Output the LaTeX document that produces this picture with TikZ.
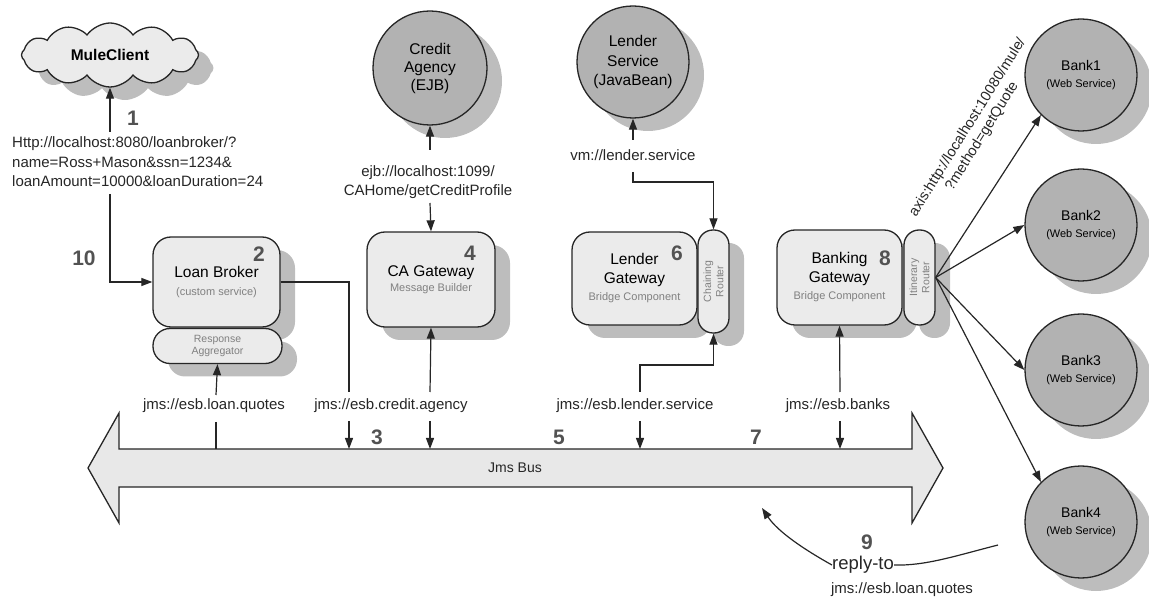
\documentclass[tikz,border=0pt]{standalone}
\usepackage{fontspec}
\setmainfont{Liberation Sans}
\usetikzlibrary{shapes.symbols,shadows,arrows.meta}
\tikzset{
  lbl/.style={font=\fontsize{15}{19.5}\selectfont, text=black!85, inner sep=0pt, align=center},
  num/.style={font=\fontsize{21}{21}\selectfont\bfseries, text=black!68, inner sep=0pt},
  shad/.style={drop shadow={opacity=1, fill=black!26, shadow xshift=15pt, shadow yshift=-13pt}},
  gbox/.style={draw=black!85, line width=1.3pt, fill=black!8, rounded corners=18pt, shad, inner sep=0pt, align=center,
    font=\fontsize{15.5}{18.5}\selectfont},
  pill/.style={draw=black!85, line width=1.3pt, fill=black!8, shad, inner sep=0pt, align=center,
    font=\fontsize{10.5}{12.5}\selectfont, text=black!50},
  circ/.style={circle, draw=black!85, line width=1.3pt, fill=black!30, minimum size=112pt, shad, inner sep=0pt, align=center},
  arr/.style={draw=black!85, line width=1.2pt, -{Triangle[length=11pt,width=8pt]}},
  ln/.style={draw=black!85, line width=1.2pt},
}
\newcommand{\subtxt}[1]{{\fontsize{11}{13}\selectfont\color{black!50}#1}}
\begin{document}
\begin{tikzpicture}[x=1pt,y=-1pt]
\useasboundingbox (0,0) rectangle (1149,609);

% ---------- MuleClient ----------
\node[cloud, cloud puffs=12, cloud puff arc=110, aspect=2.8, draw=black!85, line width=1.3pt, fill=black!8,
      minimum width=177pt, minimum height=64pt, shad, inner sep=0pt,
      font=\fontsize{15.5}{18}\selectfont\bfseries] (cloud) at (110,55) {MuleClient};
\node[lbl, anchor=west, align=left] (http) at (12,162)
  {Http://localhost:8080/loanbroker/?\\name=Ross+Mason\&ssn=1234\&\\loanAmount=10000\&loanDuration=24};
\node[num] (n1) at (133,118) {1};
\node[num] (n10) at (84,258) {10};

% ---------- Loan Broker ----------
\node[gbox, minimum width=127pt, minimum height=90pt] (lb) at (216.5,282)
  {Loan Broker\\[-1pt]\subtxt{(custom service)}};
\node[num] (n2) at (259,254) {2};
\node[pill, rounded corners=17pt, minimum width=129pt, minimum height=35pt] (agg) at (217.5,346)
  {Response\\Aggregator};
\node[lbl] (jlq) at (214,406) {jms://esb.loan.quotes};

% ---------- Credit Agency ----------
\node[circ, font=\fontsize{15.5}{18}\selectfont, minimum size=114pt] (credit) at (430,68) {Credit\\Agency\\(EJB)};
\node[lbl] (ejb) at (428,182) {ejb://localhost:1099/\\CAHome/getCreditProfile};
\node[gbox, minimum width=128pt, minimum height=95pt] (cag) at (431,279.5)
  {CA Gateway\\[-3pt]\subtxt{Message Builder}};
\node[num] (n4) at (470,253) {4};
\node[lbl] (jca) at (391,406) {jms://esb.credit.agency};
\node[num] (n3) at (377,437) {3};

% ---------- Lender ----------
\node[circ, font=\fontsize{15.5}{19.5}\selectfont] (lender) at (633,62) {Lender\\Service\\(JavaBean)};
\node[lbl] (vm) at (633,155) {vm://lender.service};
\node[gbox, minimum width=125pt, minimum height=93pt] (lg) at (634.5,278.5)
  {Lender\\Gateway\\[-1pt]\subtxt{Bridge Component}};
\node[num] (n6) at (677,253) {6};
\node[pill, rounded corners=15pt, minimum width=31pt, minimum height=103pt] (cr) at (713.5,281.5)
  {\rotatebox{90}{\shortstack{Chaining\\Router}}};
\node[lbl] (jls) at (635,406) {jms://esb.lender.service};
\node[num] (n5) at (559,437) {5};

% ---------- Banking ----------
\node[gbox, minimum width=125pt, minimum height=95pt] (bg) at (839.5,277.5)
  {Banking\\Gateway\\[-1pt]\subtxt{Bridge Component}};
\node[num] (n8) at (885,258) {8};
\node[pill, rounded corners=15pt, minimum width=31pt, minimum height=95pt] (ir) at (919.5,277.5)
  {\rotatebox{90}{\shortstack{Itinerary\\Router}}};
\node[lbl] (jb) at (838,406) {jms://esb.banks};
\node[num] (n7) at (756,437) {7};

% ---------- Banks ----------
\foreach \i/\y in {1/75,2/225,3/370,4/522}{
  \node[circ, font=\fontsize{14}{17}\selectfont] (bank\i) at (1081,\y) {Bank\i\\\fontsize{11}{13}\selectfont(Web Service)};
}
\node[lbl, rotate=58, font=\fontsize{14.5}{17}\selectfont] (axis) at (975,132)
  {axis:http://localhost:10080/mule/\\?method=getQuote};

% ---------- Jms Bus ----------
\path[draw=black!85, line width=1.3pt, fill=black!9]
  (88,468) -- (119,413) -- (119,449) -- (912,449) -- (912,413) -- (943,468)
  -- (912,523) -- (912,487) -- (119,487) -- (119,523) -- cycle;
\node[lbl, font=\fontsize{14}{16}\selectfont] (bus) at (515,468) {Jms Bus};

% ---------- reply-to ----------
\node[num] (n9) at (867,542) {9};
\node[lbl, font=\fontsize{18.5}{20}\selectfont] (reply) at (863,565) {reply-to};
\node[lbl] (jlq2) at (902,590) {jms://esb.loan.quotes};

% ---------- coordinates ----------
\coordinate (h1) at (110,132);
\coordinate (h2) at (110,194);
\coordinate (e1) at (430,150);
\coordinate (e2) at (430,203);
\coordinate (v1) at (633,140);
\coordinate (v2) at (633,172);
\coordinate (v3) at (633,182);
\coordinate (aq1) at (216,395);
\coordinate (aq2) at (216,422);
\coordinate (aq3) at (216,449);
\coordinate (c1) at (349,392);
\coordinate (c2) at (349,421);
\coordinate (c3) at (349,449);
\coordinate (g1) at (430,392);
\coordinate (g2) at (430,421);
\coordinate (g3) at (430,449);
\coordinate (l1) at (640,392);
\coordinate (l2) at (640,365);
\coordinate (l3) at (640,421);
\coordinate (l4) at (640,449);
\coordinate (k1) at (840,392);
\coordinate (k2) at (840,421);
\coordinate (k3) at (840,449);
\coordinate (b4r) at (998,545);
\coordinate (rt) at (762,508);

% ---------- connectors ----------
\draw[arr] (h1) -- (cloud.south);
\draw[arr] (h2) |- (lb.west);
\draw[arr] (e1) -- (credit.south);
\draw[arr] (e2) -- (cag.north);
\draw[arr] (aq1) -- (agg.south);
\draw[ln] (aq2) -- (aq3);
\draw[ln] (lb.east) -| (c1);
\draw[arr] (c2) -- (c3);
\draw[arr] (g1) -- (cag.south);
\draw[arr] (g2) -- (g3);
\draw[arr] (v1) -- (lender.south);
\draw[arr] (v2) -- (v3) -| (cr.north);
\draw[arr] (l1) -- (l2) -| (cr.south);
\draw[arr] (l3) -- (l4);
\draw[arr] (k1) -- (bg.south);
\draw[arr] (k2) -- (k3);
\draw[arr] (ir.east) -- (bank1.south west);
\draw[arr] (ir.east) -- (bank2.west);
\draw[arr] (ir.east) -- (bank3.west);
\draw[arr] (ir.east) -- (bank4.north west);
\draw[ln] (b4r) .. controls (955,556) and (925,566) .. (reply.east);
\draw[arr] (reply.west) .. controls (805,550) and (778,532) .. (rt);
\end{tikzpicture}
\end{document}
